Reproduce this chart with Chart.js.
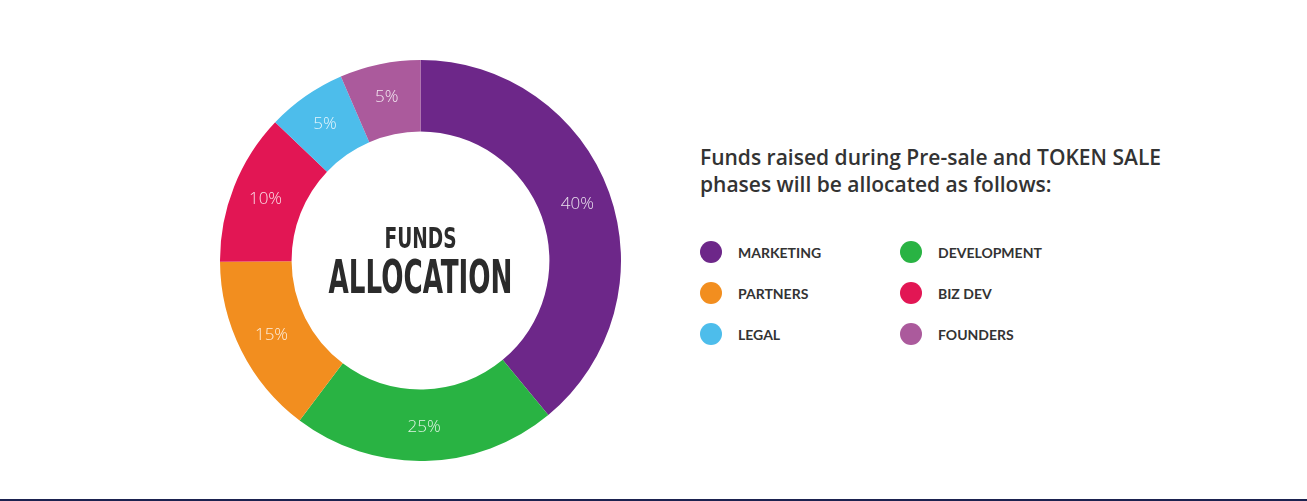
<!DOCTYPE html>
<html>
<head>
<meta charset="utf-8">
<script src="https://cdn.jsdelivr.net/npm/chart.js"></script>
<style>
  html, body { margin: 0; padding: 0; background: #fff; }
  body { width: 1307px; height: 501px; position: relative; overflow: hidden; }
  .chart-box { position: absolute; left: 220px; top: 60px; width: 401px; height: 401px; }
  .info { position: absolute; left: 700px; top: 144px; }
  .info-title {
    font-family: "Open Sans", sans-serif; font-weight: 600; font-size: 21px;
    line-height: 27px; color: #333; margin: 0; width: 480px;
  }
  .legend {
    display: grid; grid-template-columns: 200px 200px; row-gap: 19px;
    margin-top: 43px;
  }
  .legend .item { display: flex; align-items: center; height: 22px; }
  .legend .dot { width: 22px; height: 22px; border-radius: 50%; margin-right: 16px; }
  .legend .txt {
    font-family: Lato, sans-serif; font-weight: 700; font-size: 14px; color: #333;
  }
  .bottom-line { position: absolute; left: 0; right: 0; top: 499px; height: 2px; background: #1b2250; }
</style>
</head>
<body>
<div class="chart-box"><canvas id="myChart"></canvas></div>
<div class="info">
  <p class="info-title">Funds raised during Pre-sale and TOKEN SALE phases will be allocated as follows:</p>
  <div class="legend" id="legend"></div>
</div>
<div class="bottom-line"></div>

<script>
// slices in drawing order, clockwise from the top
const categories = ["MARKETING", "DEVELOPMENT", "PARTNERS", "BIZ DEV", "LEGAL", "FOUNDERS"];
const shares = [39, 21.3, 14.6, 12.2, 6.4, 6.5];              // arc sizes as drawn
const shareLabels = ["40%", "25%", "15%", "10%", "5%", "5%"]; // text printed on the slices
const colors = ["#6d2789", "#29b343", "#f28e1f", "#e21654", "#4dbdeb", "#ab5a9c"];

// legend (2 columns, row by row)
const legendDiv = document.getElementById("legend");
for (let i = 0; i < categories.length; i++) {
    const item = document.createElement("div");
    item.classList.add("item");
    item.innerHTML = `<div class="dot" style="background-color: ${colors[i]};"></div>
                      <div class="txt">${categories[i]}</div>`;
    legendDiv.appendChild(item);
}

// percent text on each slice
const sliceLabels = {
    id: "sliceLabels",
    afterDatasetsDraw(chart) {
        const ctx = chart.ctx;
        const meta = chart.getDatasetMeta(0);
        ctx.save();
        ctx.font = "300 17px 'Open Sans', sans-serif";
        ctx.fillStyle = "rgba(255,255,255,0.85)";
        ctx.textAlign = "center";
        ctx.textBaseline = "middle";
        meta.data.forEach((arc, i) => {
            const p = arc.getProps(["x", "y", "startAngle", "endAngle", "innerRadius", "outerRadius"], true);
            const mid = (p.startAngle + p.endAngle) / 2;
            const r = (p.innerRadius + p.outerRadius) / 2 + 2;
            ctx.fillText(shareLabels[i], p.x + Math.cos(mid) * r, p.y + Math.sin(mid) * r);
        });
        ctx.restore();
    }
};

// "FUNDS ALLOCATION" in the hole, squeezed to a condensed look
const centerText = {
    id: "centerText",
    afterDraw(chart) {
        const ctx = chart.ctx;
        const arc = chart.getDatasetMeta(0).data[0];
        const cx = arc.x, cy = arc.y;
        const fit = (text, size, baseline, width) => {
            ctx.save();
            ctx.font = `bold ${size}px 'Liberation Sans Narrow', 'DejaVu Sans Condensed', sans-serif`;
            const w = ctx.measureText(text).width;
            ctx.translate(cx, cy + baseline);
            ctx.scale(width / w, 1);
            ctx.fillStyle = "#2b2b2b";
            ctx.textAlign = "center";
            ctx.textBaseline = "alphabetic";
            ctx.fillText(text, 0, 0);
            ctx.restore();
        };
        fit("FUNDS", 29, -12.5, 72);
        fit("ALLOCATION", 46, 32.5, 184);
    }
};

const myChart = new Chart(document.getElementById("myChart"), {
    type: "doughnut",
    data: {
        labels: categories,
        datasets: [{
            data: shares,
            backgroundColor: colors,
            borderWidth: 0
        }]
    },
    options: {
        responsive: true,
        maintainAspectRatio: false,
        animation: false,
        cutout: "64.3%",
        layout: { padding: 0 },
        plugins: {
            legend: { display: false },
            tooltip: { enabled: false }
        }
    },
    plugins: [sliceLabels, centerText]
});
</script>
</body>
</html>
